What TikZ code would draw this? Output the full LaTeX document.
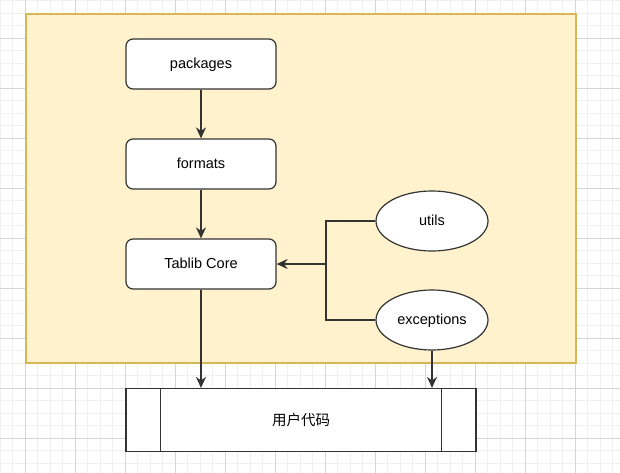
\documentclass[tikz,border=0pt]{standalone}
\usepackage{fontspec}
\setmainfont{Liberation Sans}
\newfontfamily\cjk{Noto Sans CJK SC}
\usetikzlibrary{shapes.geometric,arrows.meta,calc}
\definecolor{gridminor}{HTML}{F0F0F0}
\definecolor{gridmajor}{HTML}{D4D4D4}
\definecolor{yfill}{HTML}{FFF2CC}
\definecolor{ystroke}{HTML}{D6B656}
\definecolor{edge}{HTML}{333333}
\tikzset{
  lbl/.style={font=\fontsize{14.5}{16}\selectfont, text height=11pt, text depth=2pt},
  box/.style={draw=edge, fill=white, rounded corners=7pt, minimum width=150pt, minimum height=50pt, inner sep=0pt, line width=1.2pt, lbl},
  oval/.style={draw=edge, fill=white, ellipse, minimum width=112pt, minimum height=60pt, inner sep=0pt, line width=1.2pt, lbl},
  procbox/.style={draw=edge, fill=white, rectangle, minimum width=350pt, minimum height=63pt, inner sep=0pt, line width=1.2pt, font=\cjk\fontsize{14.5}{16}\selectfont},
  conn/.style={draw=edge, line width=1.2pt},
  arr/.style={conn, -{Stealth[length=11pt,width=10pt,inset=3.5pt]}}
}
\begin{document}
\begin{tikzpicture}[x=1pt,y=-1pt]
\useasboundingbox (0,0) rectangle (620,473);
% grid
\foreach \i in {0,...,50} {
  \draw[gridminor, line width=0.8pt] (\i*12.5,0) -- (\i*12.5,473);
}
\foreach \i in {0,...,38} {
  \draw[gridminor, line width=0.8pt] (0,0.8+\i*12.5) -- (620,0.8+\i*12.5);
}
\foreach \i in {0,...,12} {
  \draw[gridmajor, line width=0.8pt] (25+\i*50,0) -- (25+\i*50,473);
}
\foreach \i in {0,...,9} {
  \draw[gridmajor, line width=0.8pt] (0,38.3+\i*50) -- (620,38.3+\i*50);
}
% container
\node[draw=ystroke, fill=yfill, line width=1.3pt, minimum width=550pt, minimum height=349pt, inner sep=0pt] (bg) at (301,188.5) {};
% nodes
\node[box] (pk) at (201,64) {packages};
\node[box] (fm) at (201,164) {formats};
\node[box] (tc) at (201,264) {Tablib Core};
\node[oval] (ut) at (432,221) {utils};
\node[oval] (ex) at (432,320) {exceptions};
\node[procbox] (uc) at (301,420) {用户代码};
\draw[conn] ([xshift=35pt]uc.north west) -- ([xshift=35pt]uc.south west);
\draw[conn] ([xshift=-35pt]uc.north east) -- ([xshift=-35pt]uc.south east);
% connectors
\coordinate (j) at (326,264);
\draw[arr] (pk) -- (fm);
\draw[arr] (fm) -- (tc);
\draw[conn] (ut.west) -| (j);
\draw[conn] (ex.west) -| (j);
\draw[arr] (j) -- (tc.east);
\draw[arr] (tc.south) -- (tc.south |- uc.north);
\draw[arr] (ex.south) -- (ex.south |- uc.north);
\end{tikzpicture}
\end{document}
